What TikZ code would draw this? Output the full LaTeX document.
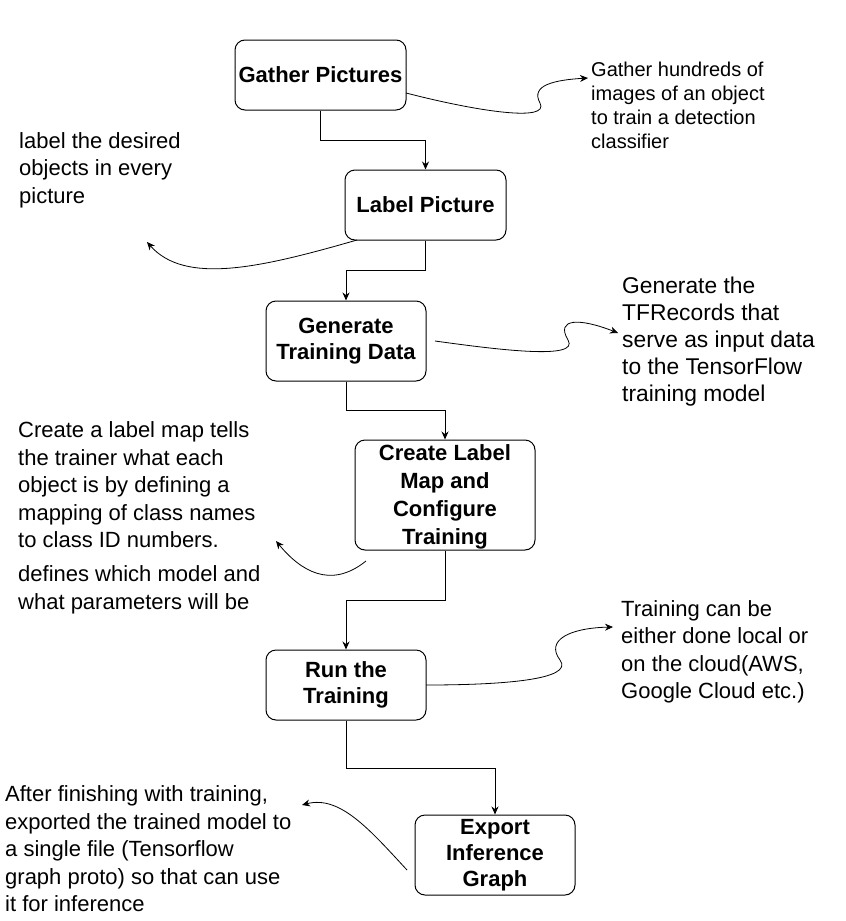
\documentclass[tikz,border=0pt]{standalone}
\usepackage{fontspec}
\setmainfont{Liberation Sans}
\usetikzlibrary{arrows.meta}
\begin{document}
\begin{tikzpicture}[x=1pt,y=-1pt,
  stepbox/.style={draw, line width=1pt, rounded corners=10pt, align=center, inner sep=2pt, font=\fontsize{22}{26}\selectfont\bfseries},
  flow/.style={line width=1pt, -{Stealth[length=8pt,width=7pt]}},
  note/.style={anchor=west, align=left, inner sep=0pt, font=\fontsize{22}{27.5}\selectfont},
  smallnote/.style={anchor=west, align=left, inner sep=0pt, font=\fontsize{20}{24}\selectfont},
  curvy/.style={line width=0.8pt, -{Stealth[length=8pt,width=7pt]}}]
\useasboundingbox (0,0) rectangle (846,921);
% boxes
\node[stepbox, minimum width=171pt, minimum height=70pt] (b1) at (320.5,75) {Gather Pictures};
\node[stepbox, minimum width=161pt, minimum height=70pt] (b2) at (425.5,205) {Label Picture};
\node[stepbox, minimum width=160pt, minimum height=80pt] (b3) at (346,341) {Generate\\Training Data};
\node[stepbox, minimum width=180pt, minimum height=110pt, inner ysep=0pt, font=\fontsize{22}{28}\selectfont\bfseries] (b4) at (445,495) {\rule{0pt}{20pt}Create Label\\Map and\\Configure\\Training};
\node[stepbox, minimum width=160pt, minimum height=70pt] (b5) at (346,685) {Run the\\Training};
\node[stepbox, minimum width=160pt, minimum height=80pt] (b6) at (495,855) {Export\\Inference\\Graph};
% flow connectors
\draw[flow] (b1.south) -- ++(0,30) -| (b2.north);
\draw[flow] (b2.south) -- ++(0,30) -| (b3.north);
\draw[flow] (b3.south) -- ++(0,29) -| (b4.north);
\draw[flow] (b4.south) -- ++(0,50) -| (b5.north);
\draw[flow] (b5.south) -- ++(0,48) -| (b6.north);
% annotations
\node[smallnote] (n1) at (591,105) {Gather hundreds of\\images of an object\\to train a detection\\classifier};
\node[note] (n2) at (19,170) {label the desired\\objects in every\\picture};
\node[note, font=\fontsize{22.8}{27}\selectfont] (n3) at (622,342) {Generate the\\TFRecords that\\serve as input data\\to the TensorFlow\\training model};
\node[note] (n4) at (18,485) {Create a label map tells\\the trainer what each\\object is by defining a\\mapping of class names\\to class ID numbers.};
\node[note] (n5) at (18,590) {defines which model and\\what parameters will be};
\node[note] (n6) at (621,652) {Training can be\\either done local or\\on the cloud(AWS,\\Google Cloud etc.)};
\node[note] (n7) at (5,849) {After finishing with training,\\exported the trained model to\\a single file (Tensorflow\\graph proto) so that can use\\it for inference};
% curved annotation arrows
\coordinate (c1s) at (406,93);  \coordinate (c1e) at (588,78);
\coordinate (c2s) at (357,240); \coordinate (c2e) at (147,242);
\coordinate (c3s) at (435,341); \coordinate (c3e) at (618,333);
\coordinate (c4s) at (366,561); \coordinate (c4e) at (276,541);
\coordinate (c5s) at (426,685); \coordinate (c5e) at (613,627);
\coordinate (c6s) at (407,870); \coordinate (c6e) at (302,805);
\draw[curvy] (c1s) .. controls (480,112) and (550,122) .. (540,103) .. controls (530,85) and (555,80) .. (c1e);
\draw[curvy] (c2s) .. controls (260,268) and (185,285) .. (c2e);
\draw[curvy] (c3s) .. controls (500,350) and (580,360) .. (568,340) .. controls (555,318) and (580,318) .. (c3e);
\draw[curvy] (c4s) .. controls (330,590) and (300,570) .. (c4e);
\draw[curvy] (c5s) .. controls (500,685) and (575,680) .. (560,660) .. controls (545,640) and (570,628) .. (c5e);
\draw[curvy] (c6s) .. controls (370,830) and (340,795) .. (c6e);
\end{tikzpicture}
\end{document}
